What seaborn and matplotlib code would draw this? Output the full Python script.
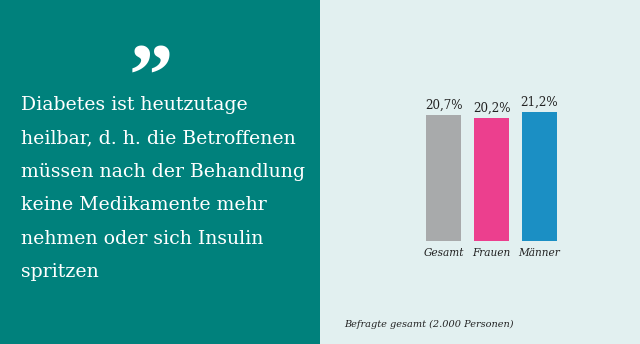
import matplotlib
matplotlib.use("Agg")
import matplotlib.pyplot as plt
import seaborn as sns
import pandas as pd
from matplotlib.patches import Rectangle

categories = ["Gesamt", "Frauen", "Männer"]
values = [20.7, 20.2, 21.2]
value_labels = ["20,7%", "20,2%", "21,2%"]
colors = ["#A8AAAB", "#EC3F8E", "#1B8FC4"]
quote_lines = [
    "Diabetes ist heutzutage",
    "heilbar, d. h. die Betroffenen",
    "müssen nach der Behandlung",
    "keine Medikamente mehr",
    "nehmen oder sich Insulin",
    "spritzen",
]
footnote = "Befragte gesamt (2.000 Personen)"

sns.set_theme(style="white")
plt.rcParams["font.family"] = ["DejaVu Serif"]

W, H = 640, 344
fig = plt.figure(figsize=(6.4, 3.44), dpi=100)
fig.patch.set_facecolor("#E2F0F0")
fig.add_artist(Rectangle((0, 0), 319.5 / W, 1, transform=fig.transFigure,
                         facecolor="#00817C", edgecolor="none", zorder=0))

# quote mark
fig.text(151 / W, 1 - 82 / H, "\u201d", color="white", fontsize=64, fontweight="bold",
         ha="center", va="center", family="Liberation Serif")

for i, line in enumerate(quote_lines):
    fig.text(21 / W, 1 - (105 + i * 33.4) / H, line, color="white", fontsize=13.6,
             ha="left", va="center", family="DejaVu Serif")

fig.text(344 / W, 1 - 324 / H, footnote, color="#222222", fontsize=7.0,
         style="italic", ha="left", va="center")

ax = fig.add_axes([419.9 / W, (H - 241) / H, 143.5 / W, 151.75 / H])
df = pd.DataFrame({"cat": categories, "val": values})
sns.barplot(data=df, x="cat", y="val", hue="cat", palette=colors, width=0.73,
            legend=False, ax=ax, saturation=1, linewidth=0)
ax.set_xlim(-0.5, 2.5)
ax.set_ylim(0, 25)
ax.set_facecolor("none")
for s in ax.spines.values():
    s.set_visible(False)
ax.set_yticks([])
ax.set_xlabel("")
ax.set_ylabel("")
ax.tick_params(axis="x", length=0, pad=5)
for lab in ax.get_xticklabels():
    lab.set_fontstyle("italic")
    lab.set_fontsize(7.6)
    lab.set_color("#222222")
for i, (v, t) in enumerate(zip(values, value_labels)):
    ax.text(i, v + 0.6, t, ha="center", va="bottom", fontsize=8.6, color="#222222")

fig.savefig("out.png", dpi=100, facecolor=fig.get_facecolor())
